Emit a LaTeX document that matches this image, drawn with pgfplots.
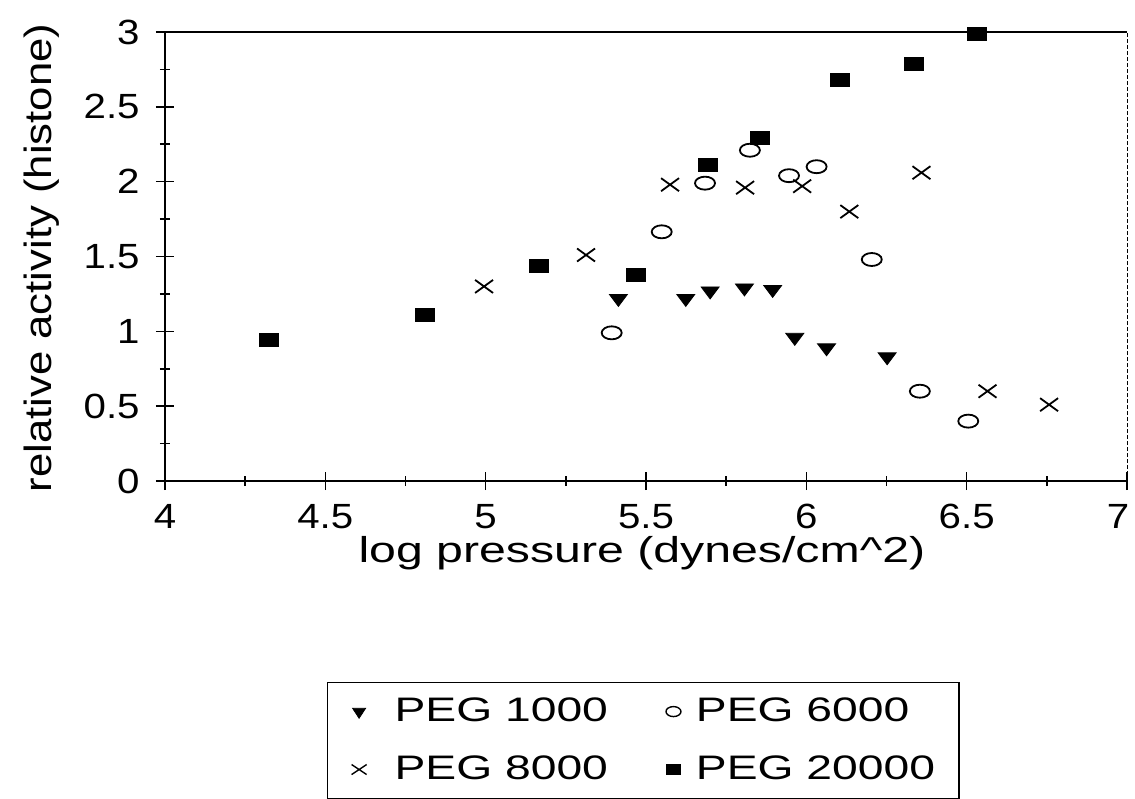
\documentclass[border=0pt]{standalone}
\usepackage{fontspec}
\setmainfont{Liberation Sans}
\newfontfamily\tickfont{Liberation Sans}[FakeStretch=1.15]
\newfontfamily\legfont{Liberation Sans}[FakeStretch=1.36]
\newfontfamily\xlabfont{Liberation Sans}[FakeStretch=1.34]
\newfontfamily\ylabfont{Liberation Sans}[FakeStretch=1.15]
\usepackage{pgfplots}
\usepackage{pgfplotstable}
\pgfplotsset{compat=1.18}

\pgfplotstableread{
x y
5.414 1.22
5.624 1.22
5.700 1.27
5.807 1.29
5.895 1.28
5.964 0.96
6.063 0.89
6.252 0.83
}\pegA
\pgfplotstableread{
x y
5.393 0.99
5.549 1.665
5.684 1.99
5.824 2.21
5.946 2.04
6.032 2.10
6.204 1.48
6.354 0.60
6.505 0.40
}\pegB
\pgfplotstableread{
x y
4.995 1.30
5.313 1.51
5.575 1.98
5.809 1.96
5.987 1.97
6.134 1.80
6.359 2.06
6.565 0.60
6.757 0.51
}\pegC
\pgfplotstableread{
x y
4.325 0.94
4.810 1.11
5.167 1.44
5.468 1.38
5.692 2.11
5.855 2.29
6.105 2.68
6.335 2.79
6.533 2.99
}\pegD

\begin{document}
\begin{tikzpicture}[x=1pt,y=1pt]
\useasboundingbox (0,0) rectangle (567.5,399);
\begin{axis}[
  at={(82.5pt,158.5pt)}, anchor=south west,
  scale only axis, width=481pt, height=224.5pt,
  xmin=4, xmax=7, ymin=0, ymax=3,
  clip=false,
  axis x line*=bottom, axis y line*=left,
  axis line style={line width=1.1pt, -},
  xtick={4,4.5,5,5.5,6,6.5,7}, ytick={0,0.5,1,1.5,2,2.5,3},
  xticklabels={4,4.5,5,5.5,6,6.5,\hbox{7\kern9pt}},
  minor x tick num=1, minor y tick num=1,
  tick align=center,
  major tick length=9pt, minor tick length=5pt,
  every tick/.style={line width=0.8pt, black},
  /pgf/number format/assume math mode=true,
  xticklabel style={font=\fontsize{17.5}{20}\tickfont, anchor=base, inner sep=0pt, yshift=-19pt},
  yticklabel style={font=\fontsize{17.5}{20}\tickfont, anchor=east, inner sep=0pt, xshift=-8pt},
  xlabel={log pressure (dynes/cm\textasciicircum 2)},
  xlabel style={at={(axis description cs:0.4958,-0.1826)}, anchor=base, inner sep=0pt, font=\fontsize{18}{20}\xlabfont},
  ylabel={relative activity (histone)},
  ylabel style={at={(axis description cs:-0.1279,0.4967)}, anchor=center, inner sep=0pt, font=\fontsize{19}{20}\ylabfont},
  legend columns=2,
  legend image code/.code={\draw[#1] plot coordinates {(0pt,0pt)};},
  legend style={at={(axis description cs:0.1684,-0.4477)}, anchor=north west,
    draw=black, line width=0.6pt, inner xsep=12pt, inner ysep=7.8pt,
    row sep=15.6pt, column sep=14pt,
    nodes={inner sep=0pt, anchor=west, font=\fontsize{17}{20}\legfont},
    /tikz/column 2/.style={column sep=29pt},
    /tikz/column 3/.style={column sep=7.5pt}},
]
\draw[line width=0.9pt] (rel axis cs:0,1) -- (rel axis cs:1,1);
\draw[line width=0.5pt, dash pattern=on 2pt off 1pt] (rel axis cs:1,0) -- (rel axis cs:1,1);

\addplot[only marks, forget plot, mark=triangle*, mark size=4pt, mark options={fill=black, draw=black, rotate=180, xscale=1.3}] table[x=x,y=y] {\pegA};
\addplot[only marks, forget plot, mark=o, mark size=3.25pt, mark options={draw=black, line width=0.9pt, xscale=1.54}] table[x=x,y=y] {\pegB};
\addplot[only marks, forget plot, mark=x, mark size=4.6pt, mark options={draw=black, line width=0.9pt, xscale=1.38}] table[x=x,y=y] {\pegC};
\addplot[only marks, forget plot, mark=square*, mark size=3.25pt, mark options={fill=black, draw=black, xscale=1.46}] table[x=x,y=y] {\pegD};

\addlegendimage{only marks, mark=triangle*, mark size=3.33pt, mark options={fill=black, draw=black, line width=0.4pt, rotate=180, xscale=1.13}}
\addlegendentry{PEG 1000}
\addlegendimage{only marks, mark=o, mark size=2.5pt, mark options={draw=black, line width=0.7pt, xscale=1.5}}
\addlegendentry{PEG 6000}
\addlegendimage{only marks, mark=x, mark size=3.54pt, mark options={draw=black, line width=0.7pt, xscale=1.5}}
\addlegendentry{PEG 8000}
\addlegendimage{only marks, mark=square*, mark size=2.5pt, mark options={fill=black, draw=black, line width=0.4pt, xscale=1.4}}
\addlegendentry{PEG 20000}
\end{axis}
\end{tikzpicture}
\end{document}
